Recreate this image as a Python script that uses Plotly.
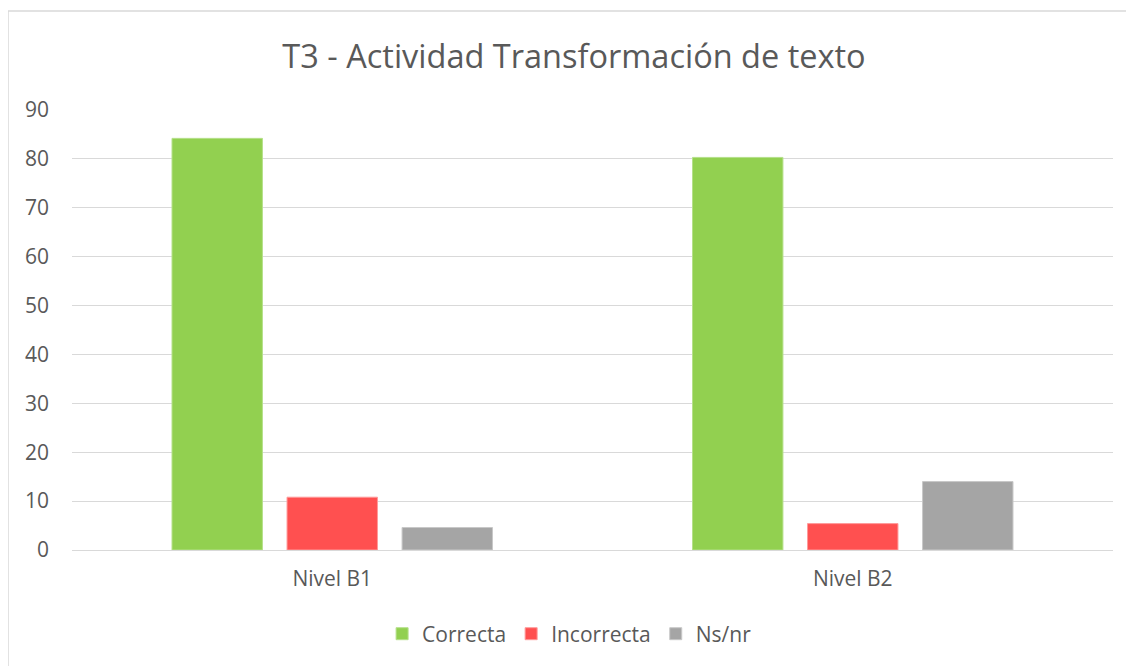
import plotly.graph_objects as go

categories = ["Nivel B1", "Nivel B2"]
series_names = ["Correcta", "Incorrecta", "Ns/nr"]
correcta = [84.2, 80.3]
incorrecta = [10.8, 5.4]
nsnr = [4.6, 14.0]
y_ticks = [0, 10, 20, 30, 40, 50, 60, 70, 80, 90]
title_text = "T3 - Actividad Transformación de texto"

colors = ["#92D050", "#FF5050", "#A5A5A5"]
edge = ["#B5E08A", "#FF9A9A", "#C8C8C8"]

fig = go.Figure()
for name, vals, c, e in zip(series_names, [correcta, incorrecta, nsnr], colors, edge):
    fig.add_trace(go.Bar(x=categories, y=vals, name=name,
                         marker=dict(color=c, line=dict(color=e, width=1))))

FONT = "Open Sans"
TXT = "#595959"
W, H = 1134, 666
L, T, B = 64, 102, 124
PW = 1041
R = W - L - PW
PH = H - T - B

fig.update_layout(
    width=W, height=H,
    margin=dict(l=L, r=R, t=T, b=B),
    paper_bgcolor="white", plot_bgcolor="white",
    barmode="group", bargap=0.337, bargroupgap=0.214,
    font=dict(family=FONT, color=TXT, size=21),
    title=dict(text=title_text, x=566 / W, xref="container", xanchor="center",
               y=1 - 49 / H, yref="container", yanchor="middle",
               font=dict(family=FONT, size=32.5, color=TXT)),
    legend=dict(orientation="h", x=0.478, xanchor="center", y=-0.191, yanchor="middle",
                font=dict(family=FONT, size=21, color=TXT),
                itemwidth=30, traceorder="normal"),
    showlegend=True,
)
fig.update_xaxes(showgrid=False, showline=False, ticks="", tickfont=dict(size=21, color=TXT),
                 ticklabelstandoff=14)
fig.update_yaxes(range=[0, 90], tickvals=y_ticks, showgrid=True, gridcolor="#D9D9D9", gridwidth=1,
                 zeroline=True, zerolinecolor="#D9D9D9", zerolinewidth=1, showline=False, ticks="",
                 tickfont=dict(size=21, color=TXT), ticklabelstandoff=22)

fig.add_shape(type="rect", xref="paper", yref="paper",
              x0=(0 - L) / PW, x1=(W + 20 - L) / PW,
              y0=(PH - (H + 30 - T)) / PH, y1=(PH + T - 3) / PH,
              line=dict(color="#D9D9D9", width=1.5), fillcolor="rgba(0,0,0,0)", layer="below")

fig.write_html("out.html")
